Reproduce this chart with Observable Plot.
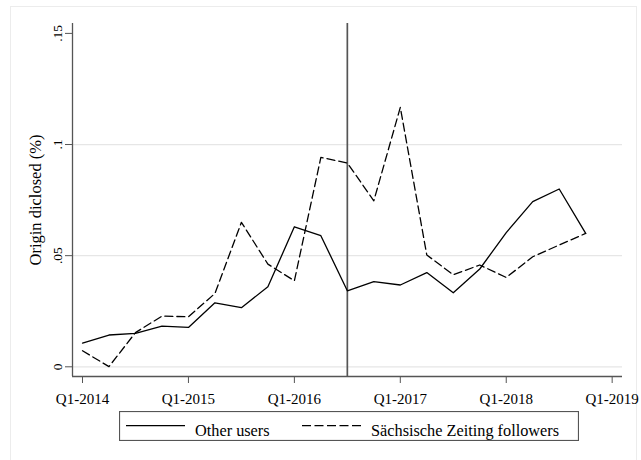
<!DOCTYPE html>
<html><head><meta charset="utf-8">
<script src="https://cdn.jsdelivr.net/npm/d3@7"></script>
<script src="https://cdn.jsdelivr.net/npm/@observablehq/plot@0.6"></script>
<style>
body{margin:0;background:#fff;}
#wrap{position:relative;width:641px;height:460px;overflow:hidden;font-family:"Liberation Serif",serif;background:#fff;}
#frame{position:absolute;left:10px;top:6px;width:627px;height:470px;border:1px solid #ececec;box-sizing:border-box;}
#chart{position:absolute;left:0;top:0;}
#legend{position:absolute;left:119px;top:411px;}
</style>
</head><body>
<div id="wrap"><div id="frame"></div><div id="chart"></div><div id="legend"></div></div>
<script>
const quarters = ["Q1-2014","Q2-2014","Q3-2014","Q4-2014","Q1-2015","Q2-2015","Q3-2015","Q4-2015",
  "Q1-2016","Q2-2016","Q3-2016","Q4-2016","Q1-2017","Q2-2017","Q3-2017","Q4-2017",
  "Q1-2018","Q2-2018","Q3-2018","Q4-2018"];
const otherUsers = [0.0107,0.0143,0.0150,0.0183,0.0177,0.0288,0.0266,0.0360,
  0.0630,0.0590,0.0342,0.0383,0.0368,0.0424,0.0333,0.0440,
  0.0604,0.0743,0.0800,0.0600];
const szFollowers = [0.0072,0.0001,0.0154,0.0228,0.0225,0.0330,0.0650,0.0462,
  0.0387,0.0942,0.0917,0.0747,0.1167,0.0503,0.0414,0.0458,
  0.0402,0.0495,0.0548,0.0600];
const seriesNames = ["Other users","Sächsische Zeiting followers"];
const xTickLabels = ["Q1-2014","Q1-2015","Q1-2016","Q1-2017","Q1-2018","Q1-2019"];
const yTicks = [0, 0.05, 0.1, 0.15];
const yTickLabels = ["0", ".05", ".1", ".15"];
const yGrid = [0, 0.05, 0.1];
const treatmentQuarter = "Q3-2016";
const yTitle = "Origin diclosed (%)";

function qIndex(label){
  const m = /Q(\d)-(\d{4})/.exec(label);
  return (+m[2] - 2014) * 4 + (+m[1] - 1);
}
const xDom = [-0.378, 20.39];
const yDom = [-0.00436, 0.15445];
const rows = (vals, s) => quarters.map((q,i)=>({x:qIndex(q), y:vals[i], s}));
const other = rows(otherUsers, seriesNames[0]);
const sz = rows(szFollowers, seriesNames[1]);
const xTicks = xTickLabels.map(qIndex);
const font = "Liberation Serif";

const chart = Plot.plot({
  width: 641, height: 410,
  marginLeft: 72, marginRight: 19, marginTop: 23, marginBottom: 34,
  style: {fontFamily: font, fontSize: "13px", color: "#000", background: "transparent", overflow: "visible"},
  x: {domain: xDom},
  y: {domain: yDom},
  marks: [
    Plot.ruleY(yGrid, {stroke: "#e6e6e6", strokeWidth: 1.2}),
    Plot.ruleX([xDom[0]], {stroke: "#555", strokeWidth: 1.3}),
    Plot.ruleY([yDom[0]], {stroke: "#555", strokeWidth: 1.3}),
    Plot.ruleX([qIndex(treatmentQuarter)], {stroke: "#555", strokeWidth: 1.7}),
    Plot.line(other, {x: "x", y: "y", stroke: "#000", strokeWidth: 1.3}),
    Plot.line(sz, {x: "x", y: "y", stroke: "#000", strokeWidth: 1.3, strokeDasharray: "8,4"}),
    Plot.axisX(xTicks, {tickSize: 7, tickPadding: 10, stroke: "#555", fill: "#000", fontSize: 15,
      tickFormat: d => xTickLabels[xTicks.indexOf(d)], label: null}),
    Plot.axisY(yTicks, {tickSize: 7, stroke: "#555", tickFormat: () => "", label: null}),
    Plot.axisY(yTicks, {tickSize: 7, tickPadding: 4, tickRotate: -90, stroke: "none", fill: "#000", fontSize: 13.5,
      tickFormat: d => yTickLabels[yTicks.indexOf(d)], label: null}),
    Plot.axisY([], {tickSize: 0, label: yTitle, labelArrow: "none", labelAnchor: "center", labelOffset: 43, fontSize: 16.5, fill: "#000"})
  ]
});
document.getElementById("chart").appendChild(chart);

// legend
const W = 460, H = 30;
const leg = d3.select("#legend").append("svg").attr("width", W).attr("height", H);
leg.append("rect").attr("x",0.5).attr("y",0.5).attr("width",W-1).attr("height",H-1)
  .attr("fill","#fff").attr("stroke","#555").attr("stroke-width",1.2);
const items = [
  {name: seriesNames[0], dash: null, x0: 7, tx: 76},
  {name: seriesNames[1], dash: "9,3.5", x0: 183, tx: 252}
];
items.forEach(it => {
  leg.append("line").attr("x1", it.x0).attr("x2", it.x0 + 59).attr("y1", 14.7).attr("y2", 14.7)
    .attr("stroke","#000").attr("stroke-width",1.3).attr("stroke-dasharray", it.dash);
  leg.append("text").attr("x", it.tx).attr("y", 25).attr("font-family", font)
    .attr("font-size", 16.3).attr("fill","#000").text(it.name);
});
</script>
</body></html>
